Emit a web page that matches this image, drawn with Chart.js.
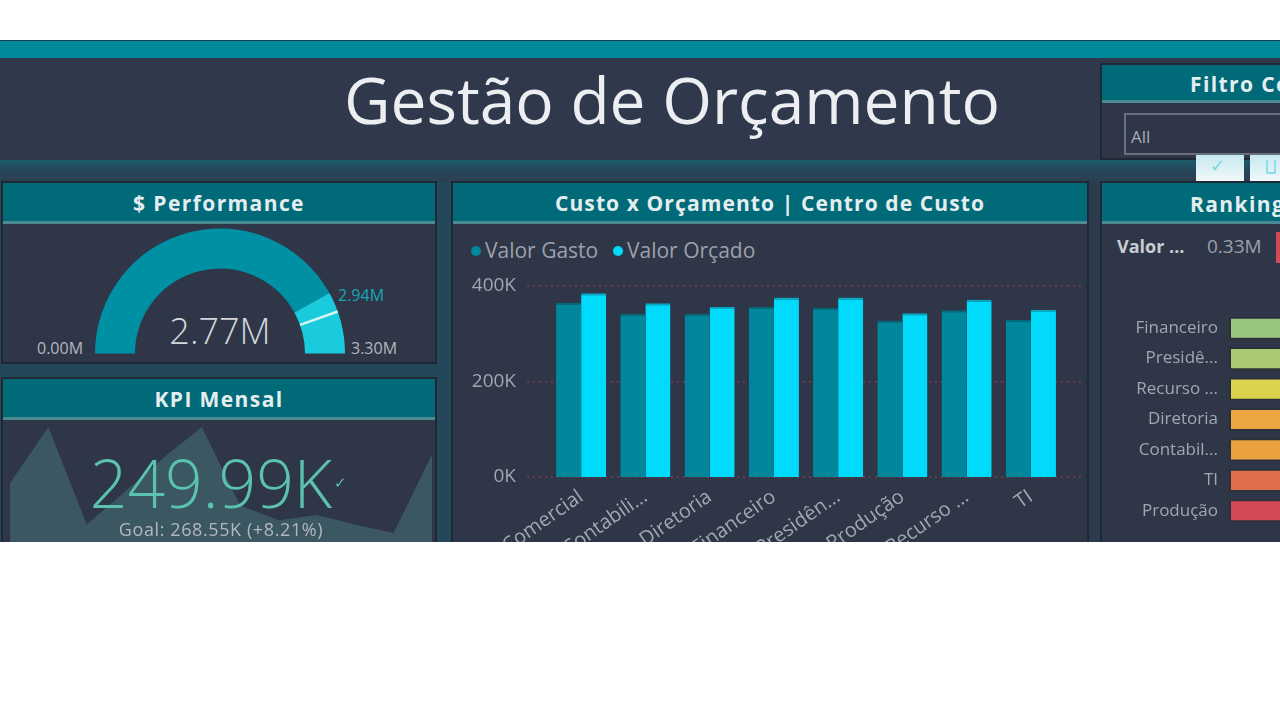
<!DOCTYPE html>
<html>
<head>
<meta charset="utf-8">
<script src="https://cdn.jsdelivr.net/npm/chart.js@4.4.1/dist/chart.umd.min.js"></script>
<style>
html,body{margin:0;padding:0;background:#ffffff;width:1280px;height:720px;overflow:hidden;font-family:"Open Sans",sans-serif;}
#dash{position:absolute;left:0;top:0;width:1280px;height:542px;overflow:hidden;clip-path:inset(40px 0 0 0);}
.a{position:absolute;}
.t{position:absolute;white-space:nowrap;}
.panel{position:absolute;background:#2e3648;box-shadow:0 0 0 2px #1f2835;}
.tbar{position:absolute;background:#016a78;border-bottom:3px solid #4b8a92;}
.ptitle{position:absolute;white-space:nowrap;color:#e4eef0;font-weight:700;font-size:21px;line-height:21px;letter-spacing:1.4px;}
canvas{position:absolute;}
</style>
</head>
<body>
<div id="dash">
  <!-- background layers -->
  <div class="a" style="left:0;top:0;width:1280px;height:542px;background:#24485a;"></div>
  <div class="a" style="left:0;top:39px;width:1280px;height:2px;background:#17404e;"></div>
  <div class="a" style="left:0;top:41px;width:1280px;height:17px;background:#00889b;"></div>
  <div class="a" style="left:0;top:58px;width:1280px;height:102px;background:#2f394b;"></div>
  <div class="a" style="left:0;top:160px;width:1280px;height:22px;background:linear-gradient(#1b5c6c 0px,#1d5666 3px,#25485a 9px,#2c3f51 22px);"></div>
  <div class="a" style="left:1088px;top:182px;width:14px;height:400px;background:#2c3b4d;"></div>

  <!-- Title -->
  <div class="t" style="left:0;width:1344px;text-align:center;top:68px;font-size:64px;line-height:64px;font-weight:400;color:#eceef2;">Gestão de Orçamento</div>

  <!-- Filtro panel -->
  <div class="panel" style="left:1102px;top:65px;width:200px;height:93px;"></div>
  <div class="tbar" style="left:1102px;top:65px;width:200px;height:35px;"></div>
  <div class="ptitle" style="left:1190px;top:74px;">Filtro Centro de Custo</div>
  <div class="a" style="left:1124px;top:113px;width:200px;height:38px;border:2px solid #687080;"></div>
  <div class="t" style="left:1131px;top:128px;font-size:17px;line-height:17px;color:#a9adb4;">All</div>
  <div class="a" style="left:1196px;top:155px;width:48px;height:27px;background:linear-gradient(#c6e8ef,#f4fafb);"></div>
  <div class="t" style="left:1210px;top:156px;font-size:18px;line-height:18px;color:#7fd6e6;">✓</div>
  <div class="a" style="left:1250px;top:155px;width:40px;height:27px;background:linear-gradient(#c6e8ef,#f4fafb);"></div>
  <div class="a" style="left:1266px;top:160px;width:6px;height:12px;border:2px solid #8fdcea;border-top:none;"></div>

  <!-- Gauge panel -->
  <div class="panel" style="left:3px;top:183px;width:432px;height:179px;"></div>
  <div class="tbar" style="left:3px;top:183px;width:432px;height:38px;"></div>
  <div class="ptitle" style="left:3px;width:432px;text-align:center;top:193px;">$ Performance</div>
  <div class="t" style="left:120px;width:200px;text-align:center;top:313px;font-size:36px;line-height:36px;font-weight:300;color:#d2d6db;">2.77M</div>
  <div class="t" style="left:37px;top:340px;font-size:16px;line-height:16px;color:#b3b7bd;">0.00M</div>
  <div class="t" style="left:351px;top:340px;font-size:16px;line-height:16px;color:#b3b7bd;">3.30M</div>
  <div class="t" style="left:338px;top:287px;font-size:16px;line-height:16px;color:#1aa5b6;">2.94M</div>

  <!-- KPI panel -->
  <div class="panel" style="left:3px;top:379px;width:432px;height:220px;"></div>

  <!-- Bar panel -->
  <div class="panel" style="left:453px;top:183px;width:634px;height:420px;"></div>
  <div class="tbar" style="left:453px;top:183px;width:634px;height:38px;"></div>
  <div class="ptitle" style="left:453px;width:634px;text-align:center;top:193px;letter-spacing:1.1px;">Custo x Orçamento | Centro de Custo</div>
  <div class="a" style="left:471px;top:246px;width:10px;height:10px;border-radius:50%;background:#01879b;"></div>
  <div class="t" style="left:485px;top:240px;font-size:21px;line-height:21px;color:#9ca1a9;">Valor Gasto</div>
  <div class="a" style="left:613px;top:246px;width:10px;height:10px;border-radius:50%;background:#00dbfb;"></div>
  <div class="t" style="left:627px;top:240px;font-size:21px;line-height:21px;color:#9ca1a9;">Valor Orçado</div>

  <!-- Ranking panel -->
  <div class="panel" style="left:1102px;top:183px;width:200px;height:420px;"></div>
  <div class="tbar" style="left:1102px;top:183px;width:200px;height:38px;"></div>
  <div class="ptitle" style="left:1190px;top:194px;">Ranking Centro de Custo</div>
  <div class="t" style="left:1117px;top:237px;font-size:18px;line-height:18px;color:#c9cdd3;font-weight:700;">Valor ...</div>
  <div class="t" style="left:1207px;top:237px;font-size:19px;line-height:19px;color:#9ca1a9;">0.33M</div>
  <div class="a" style="left:1276px;top:232px;width:12px;height:31px;background:#d24a58;"></div>

  <!-- Charts -->
  <canvas id="gauge" width="250" height="126" style="left:95px;top:228px;"></canvas>
  <canvas id="spark" width="422" height="150" style="left:10px;top:420px;"></canvas>
  <div class="tbar" style="left:3px;top:379px;width:432px;height:38px;"></div>
  <div class="ptitle" style="left:3px;width:432px;text-align:center;top:389px;">KPI Mensal</div>
  <div class="t" style="left:0px;width:422px;text-align:center;top:449px;font-size:66px;line-height:66px;font-weight:300;color:#5bc2ae;">249.99K</div>
  <div class="t" style="left:334px;top:475px;font-size:15px;line-height:15px;color:#5bc2ae;">✓</div>
  <div class="t" style="left:10px;width:422px;text-align:center;top:520px;font-size:18px;line-height:18px;color:#b3b7bd;letter-spacing:0.6px;">Goal: 268.55K (+8.21%)</div>
  <canvas id="bars" width="632" height="302" style="left:455px;top:266px;"></canvas>
  <canvas id="rank" width="400" height="213" style="left:1103px;top:313px;"></canvas>
</div>

<script>
// ---- data ----
const centros = ["Comercial", "Contabili...", "Diretoria", "Financeiro", "Presidên...", "Produção", "Recurso ...", "TI"];
const valorGasto = [365000, 342000, 342000, 356000, 354000, 328000, 349000, 329000];
const valorOrcado = [385000, 364000, 356000, 376000, 376000, 343000, 371000, 350000];
const yTicksK = [0, 200000, 400000];

const gaugeValue = 2.77;
const gaugeMax = 3.30;
const gaugeTarget = 2.94;

const kpiMonths = ["Jan","Fev","Mar","Abr","Mai","Jun","Jul","Ago","Set","Out","Nov","Dez"];
const kpiValues = [247, 300, 208, 239, 271, 300, 226, 212, 217, 208, 200, 274];

const rankLabels = ["Financeiro", "Presidê...", "Recurso ...", "Diretoria", "Contabil...", "TI", "Produção"];
const rankValues = [9.0, 8.6, 8.1, 7.7, 7.3, 6.8, 6.2];
const rankColors = ["#98c680", "#aac972", "#dbd24d", "#eba541", "#e9a23f", "#df6e4b", "#d54a58"];

Chart.defaults.font.family = '"Open Sans", sans-serif';
Chart.defaults.animation = false;

// ---- bar chart ----
const dottedGrid = {
  id: 'dottedGrid',
  beforeDatasetsDraw(chart) {
    const y = chart.scales.y, ctx = chart.ctx;
    ctx.save();
    ctx.strokeStyle = '#6b3a4d';
    ctx.lineWidth = 2;
    ctx.setLineDash([2, 4]);
    y.ticks.forEach(t => {
      const py = Math.round(y.getPixelForValue(t.value));
      ctx.beginPath();
      ctx.moveTo(72, py);
      ctx.lineTo(630, py);
      ctx.stroke();
    });
    ctx.restore();
  }
};

new Chart(document.getElementById('bars'), {
  type: 'bar',
  data: {
    labels: centros,
    datasets: [
      { label: 'Valor Gasto', data: valorGasto, backgroundColor: '#01879b', borderColor: '#026a7a', borderWidth: {top: 2, left: 0, right: 0, bottom: 0}, borderSkipped: false },
      { label: 'Valor Orçado', data: valorOrcado, backgroundColor: '#00dbfb', borderColor: '#06a9c2', borderWidth: {top: 2, left: 0, right: 0, bottom: 0}, borderSkipped: false }
    ]
  },
  options: {
    responsive: false,
    devicePixelRatio: 1,
    layout: { padding: { top: 20, right: 24, left: 0, bottom: 0 } },
    plugins: { legend: { display: false }, tooltip: { enabled: false } },
    datasets: { bar: { categoryPercentage: 0.78, barPercentage: 1.0 } },
    scales: {
      x: {
        grid: { display: false }, border: { display: false },
        ticks: { color: '#a2a6ae', font: { size: 20 }, minRotation: 35, maxRotation: 35, padding: 0, autoSkip: false },
        afterFit(axis) { axis.height = 91; axis.paddingLeft = 0; axis.paddingRight = 0; }
      },
      y: {
        min: 0, max: 400000,
        afterBuildTicks(axis) { axis.ticks = yTicksK.map(v => ({ value: v })); },
        grid: { display: false, drawTicks: false }, border: { display: false },
        ticks: { color: '#a2a6ae', font: { size: 19 }, padding: 33, callback: v => (v / 1000) + 'K' },
        afterFit(axis) { axis.width = 94; axis.paddingTop = 0; axis.paddingBottom = 0; }
      }
    }
  },
  plugins: [dottedGrid]
});

// ---- gauge ----
const targetLine = {
  id: 'targetLine',
  afterDatasetsDraw(chart) {
    const arc = chart.getDatasetMeta(0).data[0];
    const ctx = chart.ctx;
    const ang = Math.PI + Math.PI * (gaugeTarget / gaugeMax);
    ctx.save();
    ctx.strokeStyle = '#d8f4f7';
    ctx.lineWidth = 2.5;
    ctx.beginPath();
    ctx.moveTo(arc.x + Math.cos(ang) * arc.innerRadius, arc.y + Math.sin(ang) * arc.innerRadius);
    ctx.lineTo(arc.x + Math.cos(ang) * arc.outerRadius, arc.y + Math.sin(ang) * arc.outerRadius);
    ctx.stroke();
    ctx.restore();
  }
};
new Chart(document.getElementById('gauge'), {
  type: 'doughnut',
  data: {
    labels: ['Valor', 'Restante'],
    datasets: [{ data: [gaugeValue, gaugeMax - gaugeValue], backgroundColor: ['#0090a3', '#19cbdc'], borderWidth: 0 }]
  },
  options: {
    responsive: false, devicePixelRatio: 1,
    rotation: -90, circumference: 180, cutout: '68%',
    layout: { padding: 0 },
    plugins: { legend: { display: false }, tooltip: { enabled: false } }
  },
  plugins: [targetLine]
});

// ---- KPI sparkline ----
new Chart(document.getElementById('spark'), {
  type: 'line',
  data: {
    labels: kpiMonths,
    datasets: [{ data: kpiValues, fill: 'start', backgroundColor: '#3b5762', borderWidth: 0, pointRadius: 0, tension: 0 }]
  },
  options: {
    responsive: false, devicePixelRatio: 1,
    layout: { padding: 0 },
    plugins: { legend: { display: false }, tooltip: { enabled: false } },
    scales: {
      x: { display: false, offset: false },
      y: { display: false, min: 165, max: 306.6 }
    }
  }
});

// ---- ranking ----
new Chart(document.getElementById('rank'), {
  type: 'bar',
  data: {
    labels: rankLabels,
    datasets: [{ data: rankValues, backgroundColor: rankColors, borderColor: 'rgba(40,44,40,0.45)', borderWidth: 2, borderSkipped: false, barPercentage: 0.76, categoryPercentage: 1.0 }]
  },
  options: {
    indexAxis: 'y',
    responsive: false, devicePixelRatio: 1,
    layout: { padding: 0 },
    plugins: { legend: { display: false }, tooltip: { enabled: false } },
    scales: {
      x: { display: false, min: 0, max: 10 },
      y: {
        grid: { display: false, drawTicks: false }, border: { display: false },
        ticks: { color: '#a2a7ae', font: { size: 17 }, padding: 11 },
        afterFit(axis) { axis.width = 126; axis.paddingTop = 0; axis.paddingBottom = 0; }
      }
    }
  }
});
</script>
</body>
</html>
